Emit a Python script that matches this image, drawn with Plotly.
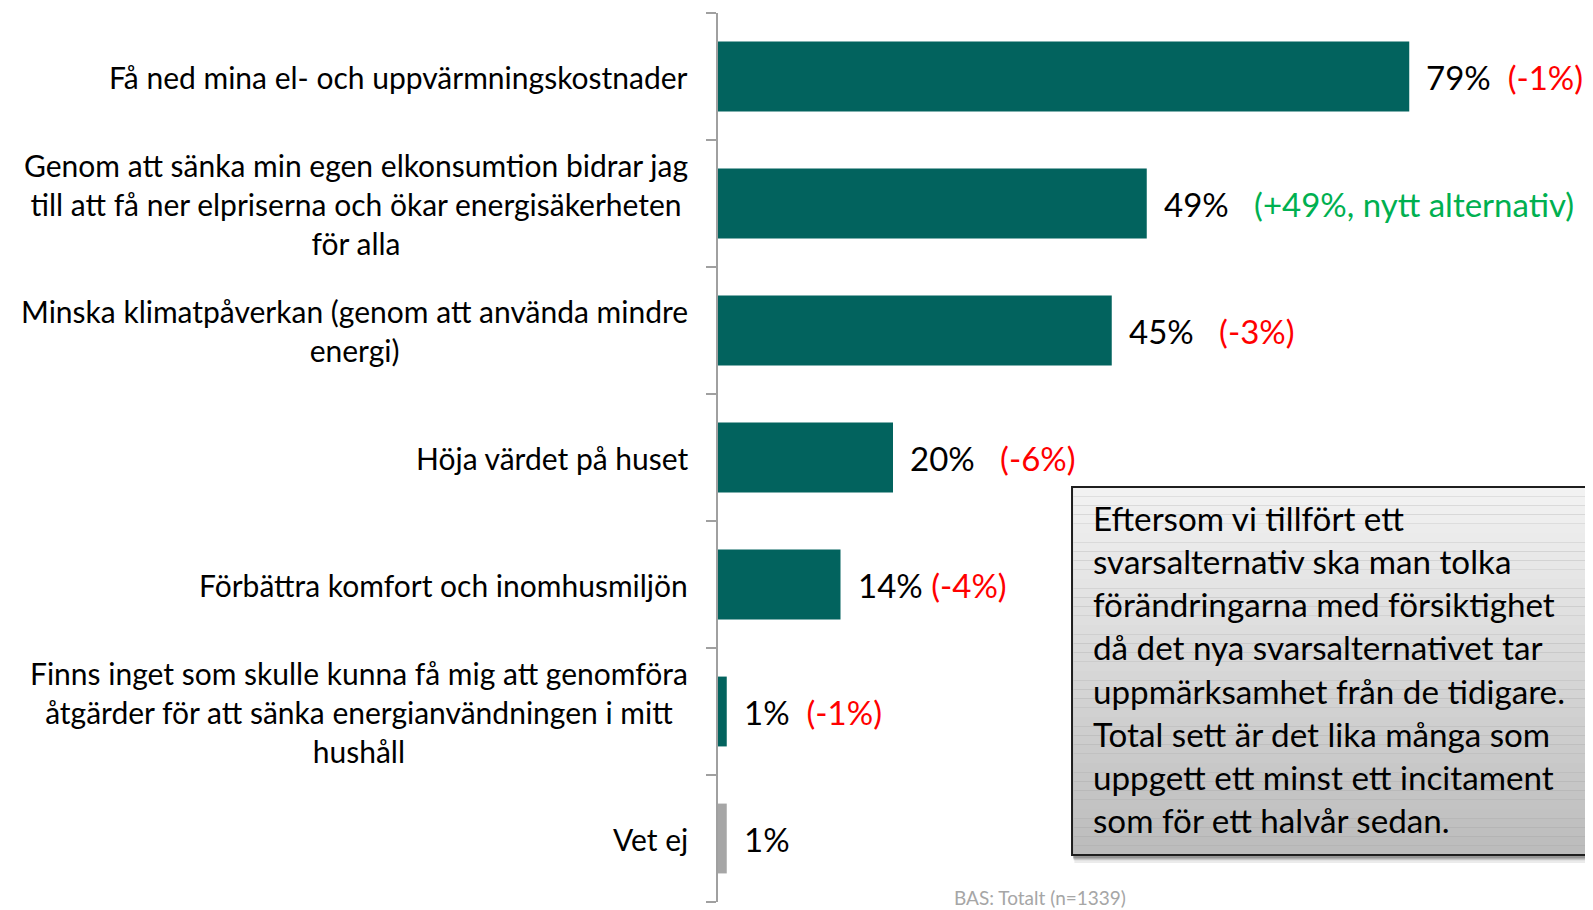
import plotly.graph_objects as go

categories = [
    "Få ned mina el- och uppvärmningskostnader",
    "Genom att sänka min egen elkonsumtion bidrar jag<br>till att få ner elpriserna och ökar energisäkerheten<br>för alla",
    "Minska klimatpåverkan (genom att använda mindre<br>energi)",
    "Höja värdet på huset",
    "Förbättra komfort och inomhusmiljön",
    "Finns inget som skulle kunna få mig att genomföra<br>åtgärder för att sänka energianvändningen i mitt<br>hushåll",
    "Vet ej",
]
values = [79, 49, 45, 20, 14, 1, 1]
value_labels = ["79%", "49%", "45%", "20%", "14%", "1%", "1%"]
change_labels = ["(-1%)", "(+49%, nytt alternativ)", "(-3%)", "(-6%)", "(-4%)", "(-1%)", ""]
change_colors = ["#FF0000", "#00B050", "#FF0000", "#FF0000", "#FF0000", "#FF0000", "#FF0000"]
change_gaps = [2, 3, 3, 3, 1, 2, 0]
bar_colors = ["#02635E"] * 6 + ["#A6A6A6"]

note_text = ("Eftersom vi tillfört ett<br>svarsalternativ ska man tolka<br>förändringarna med försiktighet<br>"
             "då det nya svarsalternativet tar<br>uppmärksamhet från de tidigare.<br>Total sett är det lika många som<br>"
             "uppgett ett minst ett incitament<br>som för ett halvår sedan.")
base_text = "BAS: Totalt (n=1339)"

FONT = "Lato, 'Open Sans', sans-serif"
ids = list(range(len(categories)))

fig = go.Figure()
fig.add_trace(go.Bar(
    y=ids, x=values, orientation="h",
    marker=dict(color=bar_colors, line=dict(width=0)),
    hoverinfo="skip", showlegend=False,
))

annotations = []
for i, (cat, v, vl, cl, cc, g) in enumerate(zip(categories, values, value_labels, change_labels, change_colors, change_gaps)):
    annotations.append(dict(
        xref="paper", yref="y", x=0, y=i, xanchor="right", yanchor="middle",
        xshift=-28, text=cat, showarrow=False, align="center",
        font=dict(family=FONT, size=30, color="#000000"),
    ))
    txt = vl
    if cl:
        txt += "\u00a0" * g + f"<span style='color:{cc}'>{cl}</span>"
    annotations.append(dict(
        xref="x", yref="y", x=v, y=i, xanchor="left", yanchor="middle",
        xshift=15, text=txt, showarrow=False,
        font=dict(family=FONT, size=33, color="#000000"),
    ))

annotations.append(dict(
    xref="paper", yref="paper", x=0.4262, y=0.2625, xanchor="left", yanchor="middle",
    text=note_text, showarrow=False, align="left",
    font=dict(family=FONT, size=33.2, color="#000000"),
))
annotations.append(dict(
    xref="paper", yref="paper", x=0.267, y=0.0, xanchor="left", yanchor="middle",
    yshift=5, text=base_text, showarrow=False,
    font=dict(family=FONT, size=19, color="#A6A6A6"),
))

shapes = []
bx0, bx1, by0, by1 = 0.4046, 1.02, 0.0529, 0.4668
# soft shadow
for off, a in [(0.009, 0.08), (0.006, 0.15), (0.004, 0.25)]:
    shapes.append(dict(type="rect", xref="paper", yref="paper", x0=bx0 + off * 0.3, x1=bx1 + off,
                       y0=by0 - off, y1=by1 - off * 0.5, fillcolor=f"rgba(0,0,0,{a})",
                       line=dict(width=0), layer="above"))
n = 40
top_c = (242, 242, 242)
bot_c = (188, 188, 188)
for k in range(n):
    t = k / (n - 1)
    c = tuple(int(round(top_c[j] + (bot_c[j] - top_c[j]) * t)) for j in range(3))
    ya = by1 - (by1 - by0) * k / n
    yb = by1 - (by1 - by0) * (k + 1) / n
    shapes.append(dict(type="rect", xref="paper", yref="paper", x0=bx0, x1=bx1, y0=yb, y1=ya,
                       fillcolor=f"rgb{c}", line=dict(width=0), layer="above"))
shapes.append(dict(type="rect", xref="paper", yref="paper", x0=bx0, x1=bx1, y0=by0, y1=by1,
                   fillcolor="rgba(0,0,0,0)", line=dict(color="#1E1E1E", width=2), layer="above"))

fig.update_layout(
    width=1585, height=902,
    margin=dict(l=710, r=0, t=5, b=8),
    paper_bgcolor="white", plot_bgcolor="white",
    bargap=0.45,
    xaxis=dict(range=[0, 100], visible=False, fixedrange=True),
    yaxis=dict(
        range=[len(categories) - 0.5, -0.5],
        tickmode="array", tickvals=[k - 0.5 for k in range(len(categories) + 1)],
        showticklabels=False, ticks="outside", ticklen=10, tickwidth=2, tickcolor="#A0A0A0",
        showline=True, linecolor="#A0A0A0", linewidth=2, showgrid=False, zeroline=False,
        fixedrange=True,
    ),
    annotations=annotations,
    shapes=shapes,
)

fig.write_html("out.html")
